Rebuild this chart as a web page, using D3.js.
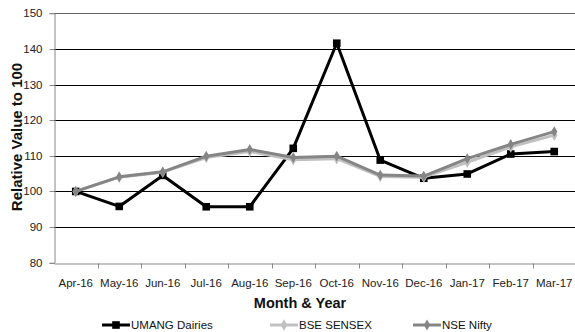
<!DOCTYPE html>
<html><head><meta charset="utf-8">
<script src="https://cdn.jsdelivr.net/npm/d3@7"></script>
<style>body{margin:0;background:#fff}svg{display:block}</style>
</head><body><svg id="c" width="575" height="332"></svg>
<script>
const months = ["Apr-16","May-16","Jun-16","Jul-16","Aug-16","Sep-16","Oct-16","Nov-16","Dec-16","Jan-17","Feb-17","Mar-17"];
const umang = [100,95.8,104.5,95.7,95.7,112.1,141.6,108.8,103.7,104.9,110.5,111.2];
const bse   = [100,104.0,105.4,109.5,111.2,108.9,109.2,104.2,104.0,108.2,112.5,115.8];
const nse   = [100,104.1,105.5,109.9,111.8,109.5,109.9,104.6,104.3,109.2,113.2,116.8];
const yTicks = [80,90,100,110,120,130,140,150];
const seriesNames = ["UMANG Dairies","BSE SENSEX","NSE Nifty"];

const svg = d3.select("#c");
const L = 54, R = 576, T = 13.3, B = 262.7;
const x = d3.scaleBand().domain(months).range([L, R]);
const y = d3.scaleLinear().domain([80,150]).range([B, T]);
const font = "'Liberation Sans', Arial, sans-serif";

// gridlines
svg.append("g").selectAll("line").data(yTicks.filter(d => d > 80)).join("line")
  .attr("x1", L).attr("x2", R)
  .attr("y1", d => Math.round(y(d)) + 0.5).attr("y2", d => Math.round(y(d)) + 0.5)
  .attr("stroke", d => d === 150 ? "#666" : "#000").attr("stroke-width", 1);

// y axis
const ya = svg.append("g").attr("transform", `translate(${L + 0.5},0)`)
  .call(d3.axisLeft(y).tickValues(yTicks).tickSize(5).tickPadding(7).tickFormat(d3.format("d")));
ya.select(".domain").attr("stroke", "#888");
ya.selectAll(".tick line").attr("stroke", "#888");
ya.selectAll("text").attr("font-family", font).attr("font-size", 11.5).attr("fill", "#222");
ya.selectAll(".tick").attr("transform", d => `translate(0,${Math.round(y(d)) + 0.5})`);

// x axis
const xa = svg.append("g").attr("transform", `translate(0,${Math.round(B) + 0.5})`)
  .call(d3.axisBottom(x).tickSize(0).tickPadding(15));
xa.select(".domain").attr("stroke", "#888");
xa.selectAll("text").attr("font-family", font).attr("font-size", 11.5).attr("fill", "#222");
// tick marks at category boundaries
xa.append("g").selectAll("line").data(months.slice(1)).join("line")
  .attr("x1", d => Math.round(x(d)) + 0.5).attr("x2", d => Math.round(x(d)) + 0.5)
  .attr("y1", 0).attr("y2", 5).attr("stroke", "#888");

// axis titles
svg.append("text").attr("x", 300).attr("y", 308).attr("text-anchor", "middle")
  .attr("font-family", font).attr("font-weight", "bold").attr("font-size", 14.5).attr("fill", "#111")
  .text("Month & Year");
svg.append("text").attr("transform", "translate(22,137) rotate(-90)").attr("text-anchor", "middle")
  .attr("font-family", font).attr("font-weight", "bold").attr("font-size", 15).attr("fill", "#111")
  .text("Relative Value to 100");

const cx = d => x(d) + x.bandwidth() / 2;
const line = d3.line().x((v, i) => cx(months[i])).y(v => y(v));
const series = [
  {name: seriesNames[0], vals: umang, color: "#000", marker: "square"},
  {name: seriesNames[1], vals: bse, color: "#c0c0c0", marker: "circle"},
  {name: seriesNames[2], vals: nse, color: "#858585", marker: "diamond"}
];
function marker(g, type, color) {
  if (type === "square") g.append("rect").attr("x", -3.8).attr("y", -3.8).attr("width", 7.6).attr("height", 7.6).attr("fill", color);
  else if (type === "circle") g.append("path").attr("d", d3.symbol(d3.symbolDiamond, 38)).attr("fill", color);
  else g.append("path").attr("d", d3.symbol(d3.symbolDiamond, 34)).attr("fill", color);
}
series.forEach(s => {
  svg.append("path").datum(s.vals).attr("d", line).attr("fill", "none")
    .attr("stroke", s.color).attr("stroke-width", 3).attr("stroke-linejoin", "round");
  s.vals.forEach((v, i) => {
    const g = svg.append("g").attr("transform", `translate(${cx(months[i])},${y(v)})`);
    marker(g, s.marker, s.color);
  });
});

// legend
const legX = [102, 270, 413];
series.forEach((s, i) => {
  const g = svg.append("g").attr("transform", `translate(${legX[i]},325)`);
  g.append("line").attr("x1", 0).attr("x2", 28).attr("y1", 0).attr("y2", 0).attr("stroke", s.color).attr("stroke-width", 3);
  const m = g.append("g").attr("transform", "translate(14,0)");
  marker(m, s.marker, s.color);
  g.append("text").attr("x", 29).attr("y", 4).attr("font-family", font).attr("font-size", 11.5).attr("fill", "#111").text(s.name);
});
</script></body></html>
